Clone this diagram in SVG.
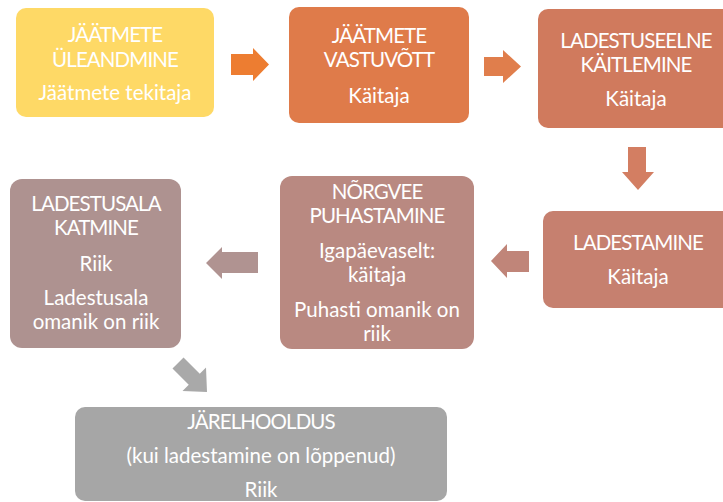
<svg xmlns="http://www.w3.org/2000/svg" width="723" height="502" viewBox="0 0 723 502">
<style>
text{font-family:"Lato","Open Sans",sans-serif;font-size:20.5px;fill:#ffffff;text-anchor:middle}
text.c{letter-spacing:-0.9px}
</style>
<rect width="723" height="502" fill="#ffffff"/>
<g id="connectors">
<polygon fill="#ED7D31" points="231,54 253,54 253,48 269,64.5 253,81 253,75 231,75"/>
<polygon fill="#E07E4C" points="484,57 503,57 503,50 521,66.5 503,83 503,76 484,76"/>
<polygon fill="#D37E62" points="628,147 646,147 646,172 654,172 638,190 622,172 628,172"/>
<polygon fill="#C08579" points="491,261 507,244 507,251 529,251 529,272 507,272 507,278"/>
<polygon fill="#B09391" points="206,263 222,247 222,252 258,252 258,273 222,273 222,279"/>
<polygon fill="#A9A9A9" transform="translate(207,392) rotate(45)" points="0,0 -18,-16.6 -18,-7.8 -41,-7.8 -41,7.8 -18,7.8 -18,16.6"/>
</g>
<g id="n1">
<rect x="16" y="8" width="198" height="109" rx="10" fill="#FED966"/>
<text class="c" x="115" y="42">JÄÄTMETE</text>
<text class="c" x="115" y="67">ÜLEANDMINE</text>
<text x="115" y="100">Jäätmete tekitaja</text>
</g>
<g id="n2">
<rect x="289" y="7" width="180" height="116" rx="10" fill="#DF7B4A"/>
<text class="c" x="379" y="43">JÄÄTMETE</text>
<text class="c" x="379" y="67">VASTUVÕTT</text>
<text x="379" y="103">Käitaja</text>
</g>
<g id="n3">
<rect x="538" y="9" width="196" height="119" rx="10" fill="#D07A5D"/>
<text class="c" x="636" y="48">LADESTUSEELNE</text>
<text class="c" x="636" y="72">KÄITLEMINE</text>
<text x="636" y="106">Käitaja</text>
</g>
<g id="n4">
<rect x="543" y="211" width="190" height="97" rx="10" fill="#C6806F"/>
<text class="c" x="638" y="250">LADESTAMINE</text>
<text x="638" y="284">Käitaja</text>
</g>
<g id="n5">
<rect x="280" y="176" width="194" height="173" rx="12" fill="#B98981"/>
<text class="c" x="377" y="199">NÕRGVEE</text>
<text class="c" x="377" y="223">PUHASTAMINE</text>
<text x="377" y="258">Igapäevaselt:</text>
<text x="377" y="282">käitaja</text>
<text x="377" y="317">Puhasti omanik on</text>
<text x="377" y="341">riik</text>
</g>
<g id="n6">
<rect x="10" y="179" width="171" height="169" rx="12" fill="#AE9290"/>
<text class="c" x="96" y="211">LADESTUSALA</text>
<text class="c" x="96" y="235">KATMINE</text>
<text x="96" y="271">Riik</text>
<text x="96" y="305">Ladestusala</text>
<text x="96" y="329">omanik on riik</text>
</g>
<g id="n7">
<rect x="75" y="407" width="372" height="94" rx="10" fill="#A6A6A6"/>
<text class="c" x="261" y="429">JÄRELHOOLDUS</text>
<text x="261" y="463">(kui ladestamine on lõppenud)</text>
<text x="261" y="497">Riik</text>
</g>
</svg>
